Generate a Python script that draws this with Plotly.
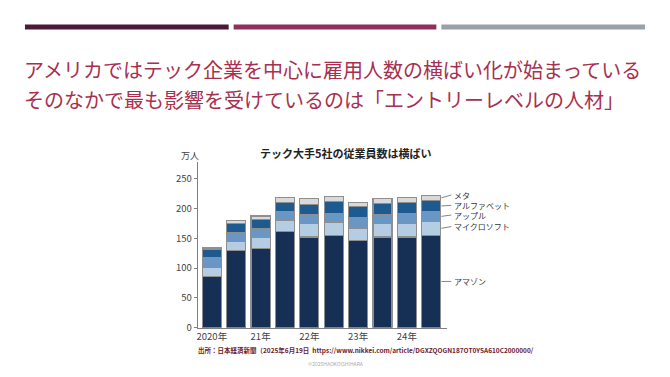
import plotly.graph_objects as go

# ---- data (万人) ----
periods = list(range(10))
tick_pos = [0, 2, 4, 6, 8]
tick_labels = ["2020年", "21年", "22年", "23年", "24年"]
companies = ["アマゾン", "マイクロソフト", "アップル", "アルファベット", "メタ"]
amazon = [86, 130, 133, 161, 152, 154, 146, 152, 152, 155]
microsoft = [15, 15, 18, 19, 22, 23, 21, 22, 23, 23]
apple = [16, 15, 15, 15, 15, 15, 17, 16, 16, 17]
alphabet = [15, 15, 15, 15, 17, 19, 19, 18, 19, 18]
meta = [3, 4, 6, 8, 10, 9, 7, 8, 8, 9]
colors = ["#152f55", "#b4cde2", "#6a96c3", "#1c5a8f", "#d9d9d9"]

series = [amazon, microsoft, apple, alphabet, meta]

W, H = 670, 377
def px(x):
    return x / W
def py(y):
    return 1 - y / H

fig = go.Figure()
for name, vals, col in zip(companies, series, colors):
    fig.add_trace(go.Bar(
        x=periods, y=vals, name=name, marker_color=col,
        marker_line_color="#8f8f8f", marker_line_width=1.2,
        width=0.78,
    ))

font_main = "Noto Sans CJK JP, Noto Sans, sans-serif"
font_narrow = "Liberation Sans Narrow, Noto Sans CJK JP, sans-serif"

fig.update_layout(
    width=W, height=H, autosize=False,
    margin=dict(l=0, r=0, t=0, b=0),
    paper_bgcolor="white", plot_bgcolor="white",
    barmode="stack", showlegend=False,
    xaxis=dict(domain=[px(197), px(447)], range=[-0.58, 9.66],
               tickvals=tick_pos, ticktext=tick_labels,
               showline=True, linecolor="#7f7f7f", linewidth=1.2,
               showgrid=False, zeroline=False, ticks="",
               tickfont=dict(family=font_narrow, size=9.5, color="#444")),
    yaxis=dict(domain=[py(333), py(165)], range=[0, 277],
               tickvals=[0, 50, 100, 150, 200, 250],
               showline=True, linecolor="#7f7f7f", linewidth=1.2,
               showgrid=False, zeroline=False,
               ticks="outside", ticklen=3, tickcolor="#7f7f7f",
               tickfont=dict(family=font_narrow, size=9.5, color="#444")),
    font=dict(family=font_main),
)

# header bars
shapes = []
for x0, x1, c in [(24, 228, "#4a1a36"), (233, 436, "#8f2f5c"), (441, 645, "#9aa0a8")]:
    shapes.append(dict(type="rect", xref="paper", yref="paper",
                       x0=px(x0), x1=px(x1), y0=py(30), y1=py(25),
                       fillcolor=c, line_width=0))

# right-side labels with leader lines
last = [s[-1] for s in series]
cum = 0
mids = []
for v in last:
    mids.append(cum + v / 2)
    cum += v
label_offsets = [0, 3, 2.3, 1.0, 4.8]
anns = []
for name, m, off in zip(companies, mids, label_offsets):
    ly = m + off
    shapes.append(dict(type="line", xref="paper", yref="y",
                       x0=px(441), x1=px(451), y0=m, y1=ly,
                       line=dict(color="#666", width=0.8)))
    anns.append(dict(xref="paper", yref="y", x=px(452), y=ly, text=name,
                     showarrow=False, xanchor="left", yanchor="middle",
                     font=dict(family=font_main, size=8, color="#333")))

headline1 = "アメリカではテック企業を中心に雇用人数の横ばい化が始まっている"
headline2 = "そのなかで最も影響を受けているのは「エントリーレベルの人材」"
chart_title = "テック大手5社の従業員数は横ばい"
unit_label = "万人"
source = "出所：日本経済新聞（2025年6月19日  https://www.nikkei.com/article/DGXZQOGN187OT0YSA610C2000000/"
credit = "©2025HAOKOISHIHARA"

anns += [
    dict(xref="paper", yref="paper", x=px(21), y=py(71), text=headline1,
         showarrow=False, xanchor="left", yanchor="middle",
         font=dict(family=font_main, size=20, color="#a8304f")),
    dict(xref="paper", yref="paper", x=px(21), y=py(101), text=headline2,
         showarrow=False, xanchor="left", yanchor="middle",
         font=dict(family=font_main, size=20, color="#a8304f")),
    dict(xref="paper", yref="paper", x=px(346), y=py(155), text="<b>" + chart_title + "</b>",
         showarrow=False, xanchor="center", yanchor="middle",
         font=dict(family=font_main, size=11, color="#222")),
    dict(xref="paper", yref="paper", x=px(189), y=py(158), text=unit_label,
         showarrow=False, xanchor="center", yanchor="middle",
         font=dict(family=font_main, size=9, color="#444")),
    dict(xref="paper", yref="paper", x=px(195), y=py(355.5), text="<b>" + source + "</b>",
         showarrow=False, xanchor="left", yanchor="middle",
         font=dict(family=font_main, size=6.5, color="#6e1a2c")),
    dict(xref="paper", yref="paper", x=px(335), y=py(369), text=credit,
         showarrow=False, xanchor="center", yanchor="middle",
         font=dict(family=font_main, size=5, color="#aaaaaa")),
]

fig.update_layout(shapes=shapes, annotations=anns)
fig.write_html("out.html", config={"displayModeBar": False},
               post_script="document.body.style.margin='0';")
